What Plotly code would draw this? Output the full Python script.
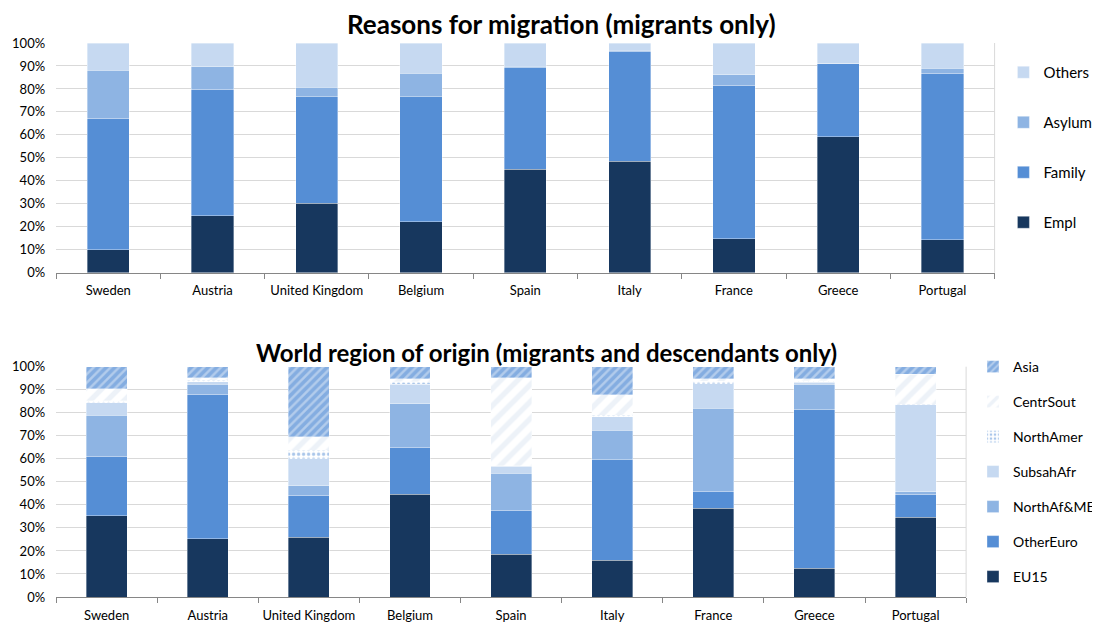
import plotly.graph_objects as go

countries = ["Sweden", "Austria", "United Kingdom", "Belgium", "Spain",
             "Italy", "France", "Greece", "Portugal"]

# Reasons for migration (shares, %)
empl   = [10.0, 24.8, 30.3, 22.1, 45.0, 48.6, 14.7, 59.1, 14.4]
family = [57.3, 55.0, 46.2, 54.4, 44.3, 47.6, 67.0, 31.9, 72.5]
asylum = [20.8,  9.9,  4.2, 10.4,  0.5,  0.6,  4.4,  0.2,  2.2]
others = [11.9, 10.3, 19.3, 13.1, 10.2,  3.2, 13.9,  8.8, 10.9]

# World region of origin (shares, %)
eu15       = [35.2, 25.4, 25.9, 44.6, 18.5, 16.0, 38.5, 12.4, 34.6]
other_euro = [26.0, 62.7, 18.3, 20.5, 19.1, 43.7,  7.4, 69.0, 10.0]
northaf_me = [17.7,  4.3,  4.1, 18.8, 16.2, 12.8, 36.1, 10.9,  1.0]
subsah_afr = [ 5.4,  1.1, 11.7,  8.4,  3.0,  5.8, 10.7,  0.9, 37.8]
north_amer = [ 0.9,  0.7,  3.8,  1.2,  0.3,  0.6,  0.9,  0.7,  0.3]
centr_sout = [ 5.2,  1.0,  5.7,  1.3, 38.0,  9.0,  1.2,  0.9, 13.0]
asia       = [ 9.6,  4.8, 30.5,  5.2,  4.9, 12.1,  5.2,  5.2,  3.3]

FONT = "Lato"
C_DARK, C_MID, C_LIGHT, C_PALE = "#17375E", "#558ED5", "#8EB4E3", "#C6D9F1"

# page is shown with an 8px body margin, so the figure is offset by 8px
OFF = 8
W, H = 1100 - OFF, 622 - OFF
def px_x(p): return (p - OFF) / W
def px_y(p): return 1 - (p - OFF) / H

fig = go.Figure()

def pct(v):
    return [x / 100 for x in v]

top = [("Empl", empl, C_DARK), ("Family", family, C_MID),
       ("Asylum", asylum, C_LIGHT), ("Others", others, C_PALE)]
for i, (name, vals, col) in enumerate(top):
    fig.add_trace(go.Bar(
        x=countries, y=pct(vals), name=name, legendgroup=name,
        legendrank=len(top) - i,
        marker=dict(color=col, line=dict(color="rgba(255,255,255,0.6)", width=0.6)),
        xaxis="x", yaxis="y", legend="legend"))

bottom = [
    ("EU15", eu15, dict(color=C_DARK)),
    ("OtherEuro", other_euro, dict(color=C_MID)),
    ("NorthAf&ME", northaf_me, dict(color=C_LIGHT)),
    ("SubsahAfr", subsah_afr, dict(color=C_PALE)),
    ("NorthAmer", north_amer, dict(color="white",
        pattern=dict(shape=".", fgcolor=C_MID, bgcolor="white", size=5, solidity=0.35))),
    ("CentrSout", centr_sout, dict(color="white",
        pattern=dict(shape="/", fgcolor="#DCE6F2", bgcolor="white", size=12, solidity=0.45))),
    ("Asia", asia, dict(color=C_MID,
        pattern=dict(shape="/", fgcolor=C_MID, bgcolor="#B3CCEC", size=6, solidity=0.6))),
]
for i, (name, vals, mk) in enumerate(bottom):
    mk = dict(mk)
    mk["line"] = dict(color="rgba(255,255,255,0.6)", width=0.6)
    fig.add_trace(go.Bar(
        x=countries, y=pct(vals), name=name, legendgroup="b" + name,
        legendrank=len(bottom) - i,
        marker=mk, xaxis="x2", yaxis="y2", legend="legend2"))

axis_common = dict(showgrid=False, showline=True, linecolor="#868686", linewidth=1,
                   ticks="outside", tickson="boundaries", ticklen=5, tickcolor="#868686",
                   tickangle=0, ticklabelstandoff=6,
                   tickfont=dict(family=FONT, size=13, color="#000000"), automargin=False,
                   fixedrange=True)
yaxis_common = dict(range=[0, 1], dtick=0.1, tickformat=".0%", showgrid=True,
                    gridcolor="#D9D9D9", gridwidth=1, zeroline=False, showline=False,
                    ticklabelstandoff=10,
                    tickfont=dict(family=FONT, size=13, color="#000000"), automargin=False,
                    ticks="", fixedrange=True)

fig.update_layout(
    width=W, height=H, margin=dict(l=0, r=0, t=0, b=0),
    paper_bgcolor="white", plot_bgcolor="white",
    barmode="stack", bargap=0.595,
    font=dict(family=FONT, color="#000000"),
    xaxis=dict(domain=[px_x(57), px_x(1013)], anchor="y", **axis_common),
    yaxis=dict(domain=[px_y(272.7), px_y(43)], anchor="x", **yaxis_common),
    xaxis2=dict(domain=[px_x(57), px_x(984)], anchor="y2", **axis_common),
    yaxis2=dict(domain=[px_y(597), px_y(366.7)], anchor="x2", **yaxis_common),
    legend=dict(x=px_x(1022), y=px_y(56), xanchor="left", yanchor="top",
                traceorder="grouped", tracegroupgap=27.5,
                font=dict(family=FONT, size=15), bgcolor="rgba(0,0,0,0)"),
    legend2=dict(x=px_x(991), y=px_y(351), xanchor="left", yanchor="top",
                 traceorder="grouped", tracegroupgap=13.8,
                 font=dict(family=FONT, size=14), bgcolor="rgba(0,0,0,0)"),
    annotations=[
        dict(text="<b>Reasons for migration (migrants only)</b>", x=px_x(572), y=px_y(24),
             xref="paper", yref="paper", showarrow=False, xanchor="center", yanchor="middle",
             font=dict(family=FONT, size=26, color="#000000")),
        dict(text="<b>World region of origin (migrants and descendants only)</b>", x=px_x(557),
             y=px_y(352), xref="paper", yref="paper", showarrow=False, xanchor="center",
             yanchor="middle", font=dict(family=FONT, size=24, color="#000000")),
    ],
    shapes=[
        dict(type="line", xref="paper", yref="paper", x0=px_x(1013), x1=px_x(1013),
             y0=px_y(272.7), y1=px_y(43), line=dict(color="#D9D9D9", width=1)),
        dict(type="line", xref="paper", yref="paper", x0=px_x(984), x1=px_x(984),
             y0=px_y(597), y1=px_y(366.7), line=dict(color="#D9D9D9", width=1)),
    ],
)

fig.write_html("out.html")
